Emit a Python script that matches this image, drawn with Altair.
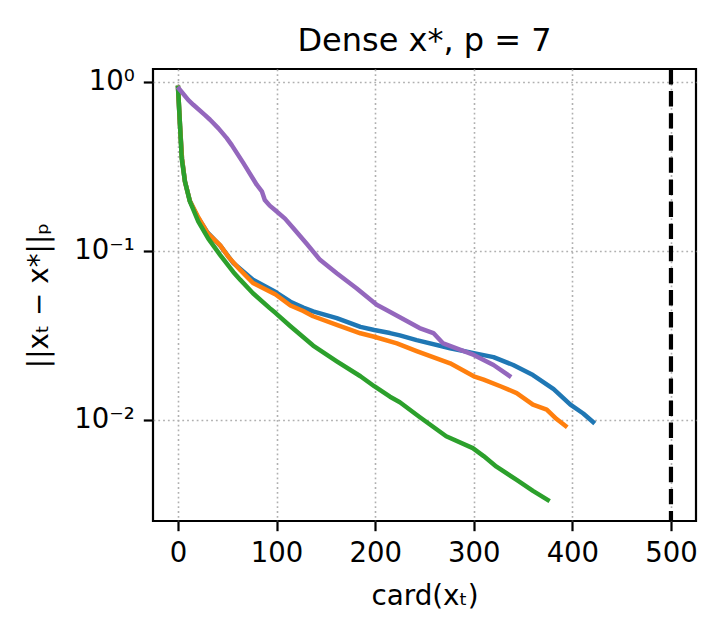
import altair as alt
import pandas as pd

# ---- data ----
blue_x = [0, 2, 4, 7, 12, 20, 30, 43, 56, 76, 99, 114, 127, 137, 161, 185, 199, 215, 225, 242, 276, 300, 320, 340,
          360, 381, 398, 411, 421]
blue_y = [0.92, 0.55, 0.352, 0.257, 0.197, 0.158, 0.128, 0.107, 0.0847, 0.0675, 0.0570, 0.0500, 0.0462, 0.0438,
          0.0400, 0.0355, 0.0340, 0.0326, 0.0316, 0.0296, 0.0265, 0.0248, 0.0235, 0.0211, 0.0184, 0.0152, 0.0123,
          0.0109, 0.0097]

orange_x = [0, 2, 4, 7, 12, 20, 30, 42.6, 51, 63, 76, 99, 114, 127, 137, 161, 185, 199, 222, 242, 276, 300, 310,
            327, 343.5, 360, 374, 384, 393]
orange_y = [0.92, 0.55, 0.352, 0.257, 0.197, 0.160, 0.127, 0.108, 0.0923, 0.0771, 0.0645, 0.0551, 0.0475, 0.0440,
            0.0410, 0.0365, 0.0325, 0.0310, 0.0283, 0.0255, 0.0216, 0.0181, 0.0173, 0.0158, 0.0144, 0.0123, 0.0115,
            0.0101, 0.0092]

green_x = [0, 2, 3.7, 7, 12, 20.6, 30.7, 42.6, 56, 63, 76, 93, 99, 114, 137, 161, 185, 199, 215, 225, 245, 272,
           299, 310, 323, 343.5, 360, 375]
green_y = [0.92, 0.554, 0.352, 0.257, 0.196, 0.149, 0.118, 0.0946, 0.075, 0.0675, 0.0561, 0.0458, 0.0428, 0.0358,
           0.0275, 0.0222, 0.0181, 0.0158, 0.0137, 0.0127, 0.0104, 0.0080, 0.0068, 0.0061, 0.00528, 0.00441,
           0.0038, 0.00336]

purple_x = [1, 10.5, 15.5, 27.4, 32.5, 41, 49.4, 54.5, 66.3, 79.8, 85, 88, 93, 98, 108.5, 117, 130.5, 144, 161, 181,
            201.5, 211, 225, 245, 259, 269, 300, 320, 336]
purple_y = [0.91, 0.779, 0.731, 0.635, 0.596, 0.530, 0.464, 0.422, 0.330, 0.246, 0.225, 0.200, 0.185, 0.175,
            0.155, 0.136, 0.110, 0.0884, 0.0737, 0.0601, 0.0479, 0.0448, 0.0405, 0.0349, 0.0326, 0.0283, 0.0242,
            0.0211, 0.0182]

series_names = ["s1", "s2", "s3", "s4"]
series_colors = ["#1f77b4", "#ff7f0e", "#2ca02c", "#9467bd"]
vline_x = [500]
x_ticks = [0, 100, 200, 300, 400, 500]
y_ticks = [0.01, 0.1, 1]

rows = []
for name, xs, ys in zip(series_names, [blue_x, orange_x, green_x, purple_x], [blue_y, orange_y, green_y, purple_y]):
    for i, (xv, yv) in enumerate(zip(xs, ys)):
        rows.append({"series": name, "order": i, "card": xv, "err": yv})
df = pd.DataFrame(rows)
vdf = pd.DataFrame({"x": vline_x})

FONT = "DejaVu Sans"

x_scale = alt.Scale(domain=[-25.4, 525.4], nice=False, zero=False)
y_scale = alt.Scale(type="log", domain=[0.00252, 1.19], nice=False)

x_axis = alt.Axis(values=x_ticks, title="card(xₜ)", format="d")
y_axis = alt.Axis(
    values=y_ticks,
    title="||xₜ − x*||ₚ",
    labelExpr="datum.value > 0.5 ? '10⁰' : (datum.value > 0.05 ? '10⁻¹' : '10⁻²')",
)

lines = alt.Chart(df).mark_line(strokeWidth=4.5, strokeJoin="round", strokeCap="square", clip=True).encode(
    x=alt.X("card:Q", scale=x_scale, axis=x_axis),
    y=alt.Y("err:Q", scale=y_scale, axis=y_axis),
    color=alt.Color("series:N", scale=alt.Scale(domain=series_names, range=series_colors), legend=None),
    order="order:Q",
)

vline = alt.Chart(vdf).mark_rule(color="black", strokeWidth=4.2, strokeDash=[15.4, 6.7]).encode(
    x=alt.X("x:Q", scale=x_scale),
)

chart = (
    alt.layer(lines, vline)
    .properties(
        width=543,
        height=452,
        title=alt.TitleParams("Dense x*, p = 7", fontSize=32, font=FONT, fontWeight="normal",
                              anchor="middle", offset=9, color="black"),
        autosize=alt.AutoSizeParams(type="none"),
        padding={"left": 145, "top": 61, "right": 12, "bottom": 100},
    )
    .configure_view(stroke="black", strokeWidth=2.2)
    .configure_axis(
        domain=False,
        grid=True,
        gridColor="#b0b0b0",
        gridDash=[1.8, 3],
        gridWidth=1.6,
        ticks=True,
        tickColor="black",
        tickSize=9.7,
        tickWidth=2.2,
        labelFont=FONT,
        labelFontSize=27.5,
        labelColor="black",
        labelPadding=9,
        titleFont=FONT,
        titleFontSize=27.8,
        titleFontWeight="normal",
        titleColor="black",
        labelFlush=False,
        labelOverlap=False,
    )
    .configure_axisX(titlePadding=15)
    .configure_axisY(titlePadding=20)
)

chart.save("out.html", embed_options={"renderer": "svg", "actions": False})
